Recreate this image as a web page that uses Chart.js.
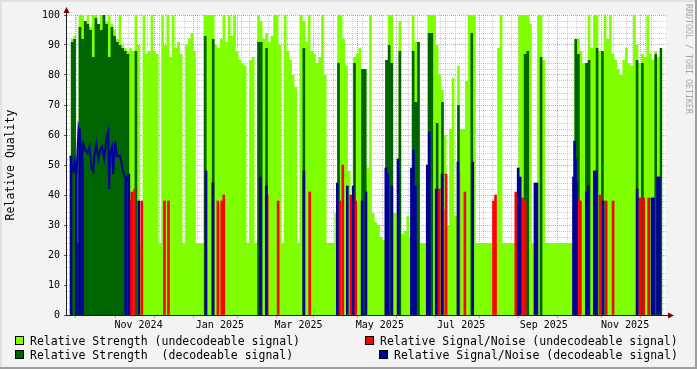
<!DOCTYPE html>
<html>
<head>
<meta charset="utf-8">
<script src="https://cdn.jsdelivr.net/npm/chart.js@4.4.1/dist/chart.umd.min.js"></script>
<style>
  html, body { margin: 0; padding: 0; background: #f3f3f3; }
  canvas { display: block; }
</style>
</head>
<body>
<canvas id="quality" width="697" height="369"></canvas>
<script>
// day 0 = 2024-09-11, one strength value every 2 days
const startDate = Date.UTC(2024, 8, 11);
const binDays = 2;
const totalDays = 444;

// Relative Strength (undecodeable signal), light green
const strengthUndecodeable = [
  92, 93, 24, 100, 100, 98, 100, 96, 100, 100, 97, 100, 100, 98, 100, 97, 95, 92, 100, 90,
  89, 88, 89, 88, 100, 90, 24, 100, 87, 88, 100, 88, 87, 24, 100, 90, 100, 86, 100, 89,
  91, 87, 24, 90, 92, 94, 88, 24, 24, 24, 100, 100, 100, 100, 90, 89, 92, 100, 91, 100,
  93, 100, 88, 85, 84, 83, 24, 85, 86, 24, 100, 98, 92, 94, 91, 93, 100, 100, 90, 24,
  100, 88, 85, 80, 76, 24, 100, 98, 91, 100, 88, 87, 84, 86, 100, 80, 24, 24, 24, 34,
  100, 100, 92, 83, 48, 35, 86, 87, 89, 82, 82, 49, 100, 34, 31, 30, 26, 25, 85, 100,
  100, 34, 34, 98, 27, 28, 33, 26, 100, 91, 91, 24, 24, 24, 100, 100, 100, 90, 80, 75,
  60, 30, 62, 79, 33, 83, 62, 62, 78, 100, 100, 100, 24, 24, 24, 24, 24, 24, 24, 24,
  89, 100, 24, 24, 24, 24, 24, 24, 100, 100, 100, 100, 97, 24, 24, 100, 100, 85, 24, 24,
  24, 24, 24, 24, 24, 24, 24, 24, 24, 92, 92, 88, 84, 80, 100, 89, 100, 100, 88, 88,
  100, 92, 100, 87, 85, 82, 80, 85, 89, 84, 83, 100, 90, 84, 87, 86, 100, 87, 85, 88,
  86, 89
];

// Relative Strength (decodeable signal), dark green
const strengthDecodeable = [
  91, 92, 24, 96, 92, 98, 97, 95, 86, 99, 97, 95, 100, 97, 86, 96, 93, 91, 90, 89,
  88, 87, 0, 0, 88, 0, 0, 0, 0, 0, 0, 0, 0, 0, 0, 0, 0, 0, 0, 0,
  0, 0, 0, 0, 0, 0, 0, 0, 0, 0, 93, 0, 0, 92, 0, 0, 0, 0, 0, 0,
  0, 0, 0, 0, 0, 0, 0, 0, 0, 0, 91, 91, 0, 89, 0, 0, 0, 0, 0, 0,
  0, 0, 0, 0, 0, 0, 0, 89, 0, 0, 0, 0, 0, 0, 0, 0, 0, 0, 0, 0,
  84, 0, 0, 0, 0, 0, 84, 0, 0, 82, 82, 0, 0, 0, 0, 0, 0, 0, 85, 90,
  84, 0, 0, 88, 0, 0, 0, 0, 88, 71, 91, 0, 0, 0, 94, 94, 0, 64, 0, 71,
  0, 0, 0, 0, 0, 70, 0, 0, 0, 0, 94, 0, 0, 0, 0, 0, 0, 0, 0, 0,
  0, 0, 0, 0, 0, 0, 0, 0, 0, 0, 87, 88, 0, 0, 0, 0, 86, 0, 0, 0,
  0, 0, 0, 0, 0, 0, 0, 0, 0, 92, 87, 0, 0, 84, 85, 0, 0, 89, 0, 88,
  0, 0, 0, 0, 0, 0, 0, 0, 0, 0, 0, 0, 85, 0, 84, 0, 0, 0, 0, 87,
  0, 89
];

// Relative Signal/Noise (undecodeable signal), red spikes
const snrUndecodeableDays = [44.5, 46, 48, 53.4, 70.4, 73.4, 110.5, 113.4, 114.9, 147.5, 155.7, 179.4,
  202, 204.2, 210.2, 211.6, 212.4, 213.9, 267.6, 276.5, 279.5, 281.7, 291.3, 295.8, 317.3, 318.8,
  334, 335.4, 339.1, 341, 380.3, 381.5, 382.5, 387.7, 397.3, 401.8, 407, 427, 430, 433.7];
const snrUndecodeableVals = [38, 41, 42, 38, 38, 38, 38, 38, 40, 40, 38, 41,
  38, 50, 40, 39, 40, 38, 38, 42, 35, 47, 47, 41, 38, 40,
  41, 38, 39, 38, 39, 38, 38, 41, 40, 38, 38, 39, 39, 39];

// Relative Signal/Noise (decodeable signal), blue spikes
const snrDecodeableDays = [0.3, 4.4, 6.7, 8.9, 41.3, 43.7, 51.1, 101.6, 106.7, 142.3, 146.8, 175,
  200.1, 207.6, 212, 218.7, 221.6, 236.5, 238, 241, 245.7, 255.7, 257.2, 258.7, 267.6, 269.1,
  274.3, 278.7, 290.6, 301.7, 335.8, 337.3, 348.4, 349.9, 377.3, 378.1, 378.8, 379.5, 386.9,
  388.4, 392.9, 394.4, 399.6, 425.1, 436.2, 437.4, 440.4, 441.8];
const snrDecodeableVals = [53, 51, 62, 52, 46, 47, 38, 48, 44, 46, 43, 48,
  44, 43, 43, 38, 41, 49, 47, 43, 52, 49, 55, 43, 50, 61,
  42, 47, 51, 51, 49, 46, 44, 44, 46, 58, 52, 44, 41,
  43, 48, 48, 38, 42, 39, 39, 46, 46];

// blue trace during the first weeks
const snrTraceDays = [0, 0.7, 2.2, 3, 4.4, 5.9, 7.4, 8.2, 9.6, 11.1, 12.6, 14.1, 15.6, 17, 17.8,
  19.3, 20.8, 22.2, 23.7, 25.2, 26.7, 28.2, 28.9, 29.7, 31.1, 31.9, 33.4, 34.8, 37.1, 38.5,
  39.3, 40.8, 42.3, 43.7];
const snrTraceVals = [53, 50, 48, 51, 47, 62, 58, 50, 57, 55, 54, 56, 49, 48, 53,
  57, 52, 55, 56, 52, 58, 61, 42, 54, 56, 47, 58, 53, 53, 50,
  48, 46, 45, 47];

const monthLabels = ['Nov 2024', 'Jan 2025', 'Mar 2025', 'May 2025', 'Jul 2025', 'Sep 2025', 'Nov 2025'];
const monthLabelDates = [[2024, 11, 1], [2025, 1, 1], [2025, 3, 1], [2025, 5, 1], [2025, 7, 1], [2025, 9, 1], [2025, 11, 1]];
const yTickValues = [];
for (let v = 0; v <= 100; v += 2) yTickValues.push(v);

const LIGHT = '#7fff00', DARK = '#006400', RED = '#ff0000', BLUE = '#000099';
const GRID = 'rgba(143,143,143,0.45)', MGRID = 'rgba(222,79,79,0.6)', NONE = 'rgba(0,0,0,0)';
const FONT = '"DejaVu Sans Mono", monospace';

const dayOf = (y, m, d) => (Date.UTC(y, m - 1, d) - startDate) / 864e5;

// x ticks: month labels, mid-month major grid, weekly minor grid
const xTicks = [];
const labelAt = {};
monthLabelDates.forEach((d, i) => { const v = dayOf(...d); labelAt[v] = monthLabels[i]; xTicks.push({ value: v, kind: 'label' }); });
for (let i = 0; i < 15; i++) {
  const m = (8 + i) % 12 + 1, y = 2024 + Math.floor((8 + i) / 12);
  xTicks.push({ value: dayOf(y, m, 15), kind: 'major' });
}
for (let d = 5; d < totalDays; d += 7) {
  if (!xTicks.some(t => t.value === d)) xTicks.push({ value: d, kind: 'minor' });
}
xTicks.sort((a, b) => a.value - b.value);
const kindAt = {};
xTicks.forEach(t => { kindAt[t.value] = t.kind; });

const tickVal = c => (c && c.tick ? c.tick.value : null);
const xGridColor = c => { const k = kindAt[tickVal(c)]; return k === 'major' ? MGRID : k === 'minor' ? GRID : NONE; };
const xTickColor = c => (kindAt[tickVal(c)] === 'major' ? MGRID : NONE);
const yGridColor = c => { const v = tickVal(c); return v === null ? NONE : v % 10 === 0 ? MGRID : GRID; };
const yTickColor = c => { const v = tickVal(c); return v !== null && v % 10 === 0 ? '#555' : NONE; };

const stepPoints = vals => vals.map((v, i) => ({ x: i * binDays, y: v }))
  .concat([{ x: totalDays, y: vals[vals.length - 1] }]);
const spikePoints = (days, vals) => days.map((d, i) => ({ x: d, y: vals[i] }));

const rrdFrame = {
  id: 'rrdFrame',
  beforeDraw(chart) {
    const { ctx, chartArea: a } = chart;
    ctx.save();
    ctx.fillStyle = '#f3f3f3';
    ctx.fillRect(0, 0, chart.width, chart.height);
    ctx.fillStyle = '#ffffff';
    ctx.fillRect(a.left, a.top, a.right - a.left, a.bottom - a.top);
    ctx.restore();
  },
  afterDraw(chart) {
    const { ctx, chartArea: a } = chart;
    ctx.save();
    // axes
    ctx.strokeStyle = '#202020';
    ctx.lineWidth = 1;
    ctx.beginPath();
    ctx.moveTo(a.left - 0.5, a.bottom + 0.5);
    ctx.lineTo(a.right + 2, a.bottom + 0.5);
    ctx.moveTo(a.left - 0.5, a.bottom + 0.5);
    ctx.lineTo(a.left - 0.5, a.top - 3);
    ctx.stroke();
    ctx.fillStyle = '#800000';
    ctx.beginPath();
    ctx.moveTo(a.right + 2, a.bottom - 2.5);
    ctx.lineTo(a.right + 8, a.bottom + 0.5);
    ctx.lineTo(a.right + 2, a.bottom + 3.5);
    ctx.closePath();
    ctx.fill();
    ctx.beginPath();
    ctx.moveTo(a.left - 3.5, a.top - 2);
    ctx.lineTo(a.left - 0.5, a.top - 8);
    ctx.lineTo(a.left + 2.5, a.top - 2);
    ctx.closePath();
    ctx.fill();

    // y title
    ctx.fillStyle = '#000';
    ctx.font = '11.5px ' + FONT;
    ctx.textAlign = 'center';
    ctx.textBaseline = 'middle';
    ctx.save();
    ctx.translate(11, 165);
    ctx.rotate(-Math.PI / 2);
    ctx.fillText('Relative Quality', 0, 0);
    ctx.restore();

    // watermark
    ctx.save();
    ctx.fillStyle = '#a8a8a8';
    ctx.font = '8.3px ' + FONT;
    ctx.textAlign = 'left';
    ctx.translate(688, 4);
    ctx.rotate(Math.PI / 2);
    ctx.fillText('RRDTOOL / TOBI OETIKER', 0, 0);
    ctx.restore();

    // legend
    const items = [
      [15, 336, LIGHT, 30, 345, 'Relative Strength (undecodeable signal)'],
      [365, 336, RED, 380, 345, 'Relative Signal/Noise (undecodeable signal)'],
      [15, 350, DARK, 30, 359, 'Relative Strength  (decodeable signal)'],
      [379, 350, BLUE, 394, 359, 'Relative Signal/Noise (decodeable signal)']
    ];
    ctx.font = '11.5px ' + FONT;
    ctx.textAlign = 'left';
    ctx.textBaseline = 'alphabetic';
    items.forEach(([bx, by, col, tx, ty, text]) => {
      ctx.fillStyle = col;
      ctx.fillRect(bx, by, 9, 9);
      ctx.strokeStyle = '#000';
      ctx.strokeRect(bx + 0.5, by + 0.5, 8, 8);
      ctx.fillStyle = '#000';
      ctx.fillText(text, tx, ty);
    });

    // 3d frame
    ctx.fillStyle = '#e2e2e2';
    ctx.fillRect(0, 0, chart.width, 2);
    ctx.fillRect(0, 0, 2, chart.height);
    ctx.fillStyle = '#9e9e9e';
    ctx.fillRect(0, chart.height - 2, chart.width, 2);
    ctx.fillRect(chart.width - 2, 0, 2, chart.height);
    ctx.restore();
  }
};

new Chart(document.getElementById('quality'), {
  type: 'bar',
  data: {
    datasets: [
      {
        type: 'line', label: 'Relative Signal/Noise (decodeable signal)',
        data: spikePoints(snrTraceDays, snrTraceVals),
        borderColor: BLUE, borderWidth: 2, pointRadius: 0, fill: false, tension: 0, order: 0
      },
      {
        type: 'bar', label: 'Relative Signal/Noise (decodeable signal)',
        data: spikePoints(snrDecodeableDays, snrDecodeableVals),
        backgroundColor: BLUE, barThickness: 2, grouped: false, borderWidth: 0, order: 1
      },
      {
        type: 'bar', label: 'Relative Signal/Noise (undecodeable signal)',
        data: spikePoints(snrUndecodeableDays, snrUndecodeableVals),
        backgroundColor: RED, barThickness: 2, grouped: false, borderWidth: 0, order: 2
      },
      {
        type: 'line', label: 'Relative Strength  (decodeable signal)',
        data: stepPoints(strengthDecodeable),
        stepped: true, fill: 'origin', backgroundColor: DARK, borderColor: DARK,
        borderWidth: 0, pointRadius: 0, order: 3
      },
      {
        type: 'line', label: 'Relative Strength (undecodeable signal)',
        data: stepPoints(strengthUndecodeable),
        stepped: true, fill: 'origin', backgroundColor: LIGHT, borderColor: LIGHT,
        borderWidth: 0, pointRadius: 0, order: 4
      }
    ]
  },
  options: {
    responsive: false,
    animation: false,
    events: [],
    devicePixelRatio: 1,
    layout: { padding: { left: 0, right: 31, top: 15, bottom: 0 } },
    font: { family: FONT },
    plugins: { legend: { display: false }, tooltip: { enabled: false } },
    scales: {
      x: {
        type: 'linear', min: 0, max: totalDays, z: 1,
        afterBuildTicks: s => { s.ticks = xTicks.map(t => ({ value: t.value })); },
        afterFit: s => { s.height = 54; },
        ticks: {
          autoSkip: false, maxRotation: 0, minRotation: 0, padding: 1,
          color: '#000', font: { family: FONT, size: 10 },
          callback: v => labelAt[v] || ''
        },
        grid: { color: xGridColor, tickColor: xTickColor, tickLength: 3, lineWidth: 1 },
        border: { display: false, dash: [1, 1] }
      },
      y: {
        type: 'linear', min: 0, max: 100, z: 1,
        afterBuildTicks: s => { s.ticks = yTickValues.map(v => ({ value: v })); },
        afterFit: s => { s.width = 67; },
        ticks: {
          autoSkip: false, padding: 4, color: '#000', font: { family: FONT, size: 10 },
          callback: v => (v % 10 === 0 ? String(v) : '')
        },
        grid: { color: yGridColor, tickColor: yTickColor, tickLength: 3, lineWidth: 1 },
        border: { display: false, dash: [1, 1] }
      }
    }
  },
  plugins: [rrdFrame]
});
</script>
</body>
</html>
